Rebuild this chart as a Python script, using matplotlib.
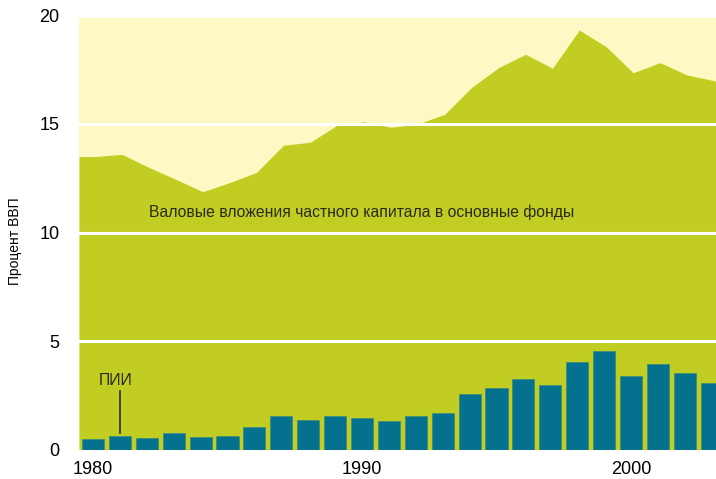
import numpy as np
import matplotlib.pyplot as plt

plt.rcParams['font.family'] = ['Liberation Sans', 'DejaVu Sans']

# Years and values (percent of GDP)
years = np.arange(1980, 2004)
gross_investment = [13.5, 13.6, 13.0, 12.45, 11.88, 12.3, 12.77, 14.02, 14.16, 14.95,
                    15.1, 14.85, 15.0, 15.45, 16.69, 17.6, 18.21, 17.57, 19.33, 18.56,
                    17.36, 17.83, 17.26, 17.0]
fdi = [0.48, 0.62, 0.53, 0.76, 0.58, 0.62, 1.04, 1.56, 1.36, 1.53,
       1.44, 1.31, 1.56, 1.68, 2.56, 2.83, 3.26, 2.96, 4.03, 4.54,
       3.40, 3.93, 3.54, 3.08]
xticks = [1980, 1990, 2000]
yticks = [0, 5, 10, 15, 20]

bg_color = '#FEF8C4'
area_color = '#C2CD23'
bar_color = '#04718F'

fig = plt.figure(figsize=(7.16, 4.79), dpi=100)
ax = fig.add_axes([79 / 716, 29.5 / 479, 637 / 716, 434 / 479])
ax.set_facecolor(bg_color)

xmin, xmax = 1979.48, 2003.16
ax.set_xlim(xmin, xmax)
ax.set_ylim(0, 20)

# area runs edge to edge of the plot
fill_x = np.r_[xmin, years + 0.08, xmax]
fill_y = np.r_[gross_investment[0], gross_investment, gross_investment[-1] - 0.03]
ax.fill_between(fill_x, 0, fill_y, color=area_color, lw=0, zorder=1)

for y in yticks[1:]:
    ax.axhline(y, color='white', lw=2.2, zorder=2)

ax.bar(years, fdi, width=0.82, color=bar_color, edgecolor='#3E8E80', lw=0.6, zorder=3)

ax.text(1982.08, 10.95, 'Валовые вложения частного капитала в основные фонды',
        fontsize=11.3, color='#2b2b1a', va='center', ha='left', zorder=4)
ax.text(1980.85, 3.2, 'ПИИ', fontsize=11.3, color='#2b2b1a', ha='center', va='center', zorder=4)
ax.plot([1981, 1981], [0.78, 2.7], color='#2b2b1a', lw=1.2, zorder=4)

ax.set_xticks(xticks)
ax.set_yticks(yticks)
ax.tick_params(length=0, labelsize=13)
ax.tick_params(axis='y', pad=14)
ax.tick_params(axis='x', pad=8)
for s in ax.spines.values():
    s.set_visible(False)

fig.text(15 / 716, 1 - 241 / 479, 'Процент ВВП', rotation=90, fontsize=10,
         ha='center', va='center')

fig.savefig('out.png', dpi=100)
